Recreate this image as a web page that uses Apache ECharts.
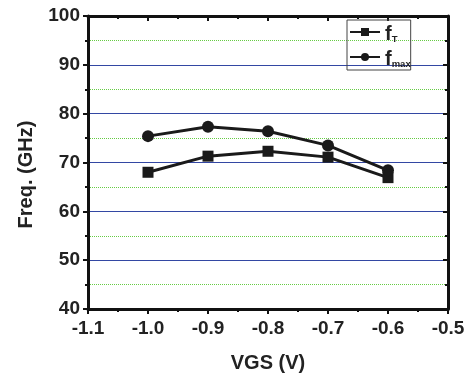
<!DOCTYPE html>
<html>
<head>
<meta charset="utf-8">
<script src="https://cdn.jsdelivr.net/npm/echarts@6/dist/echarts.min.js"></script>
<style>html,body{margin:0;padding:0;background:#fff}#c{width:472px;height:378px}</style>
</head>
<body>
<div id="c"></div>
<script>
const xValues = [-1.0, -0.9, -0.8, -0.7, -0.6];
const fT = [68.0, 71.3, 72.3, 71.1, 66.9];
const fmax = [75.4, 77.3, 76.4, 73.5, 68.4];
const seriesNames = ['fT', 'fmax'];
const xTitle = 'VGS (V)';
const yTitle = 'Freq. (GHz)';

const FONT = '"Liberation Sans", Arial, Helvetica, sans-serif';
const chart = echarts.init(document.getElementById('c'), null, {renderer: 'canvas'});
const axisLineStyle = {color: '#111', width: 3};
const tickStyle = {color: '#111', width: 2};
const labelStyle = {fontFamily: FONT, fontWeight: 'bold', fontSize: 19, color: '#222'};
const titleStyle = {fontFamily: FONT, fontWeight: 'bold', fontSize: 20, color: '#222'};

const option = {
  backgroundColor: '#fff',
  animation: false,
  grid: {left: 88, right: 24, top: 16, bottom: 69, containLabel: false},
  legend: {
    orient: 'vertical', left: 347, top: 20,
    borderColor: '#444', borderWidth: 1, padding: [4, 0, 1, 2],
    itemWidth: 30, itemHeight: 10, itemGap: 5,
    data: seriesNames,
    formatter: n => n === 'fT' ? '{m|f}{s|T}' : '{m|f}{s|max}',
    textStyle: {
      fontFamily: FONT, color: '#222',
      rich: {
        m: {fontFamily: FONT, fontWeight: 'bold', fontSize: 20, lineHeight: 24, color: '#222', verticalAlign: 'bottom'},
        s: {fontFamily: FONT, fontWeight: 'bold', fontSize: 9.5, lineHeight: 7, color: '#222', verticalAlign: 'bottom'}
      }
    }
  },
  xAxis: [{
    type: 'value', position: 'bottom', min: -1.1, max: -0.5, interval: 0.1,
    axisLine: {show: true, onZero: false, lineStyle: axisLineStyle},
    axisTick: {show: true, inside: false, length: 5, lineStyle: tickStyle},
    minorTick: {show: true, splitNumber: 2, length: 3, lineStyle: tickStyle},
    splitLine: {show: false},
    axisLabel: Object.assign({margin: 10, formatter: v => v.toFixed(1)}, labelStyle),
    name: xTitle, nameLocation: 'middle', nameGap: 44,
    nameTextStyle: titleStyle
  }, {
    type: 'value', position: 'top', min: -1.1, max: -0.5, interval: 0.1,
    axisLine: {show: true, onZero: false, lineStyle: axisLineStyle},
    axisTick: {show: true, inside: true, length: 5, lineStyle: tickStyle},
    minorTick: {show: true, splitNumber: 2, length: 3, lineStyle: tickStyle},
    splitLine: {show: false},
    axisLabel: {show: false}
  }],
  yAxis: [{
    type: 'value', position: 'left', min: 40, max: 100, interval: 10,
    axisLine: {show: true, onZero: false, lineStyle: axisLineStyle},
    axisTick: {show: true, inside: false, length: 5, lineStyle: tickStyle},
    minorTick: {show: true, splitNumber: 2, length: 3, lineStyle: tickStyle},
    splitLine: {show: true, lineStyle: {color: '#3347a3', width: 1}},
    minorSplitLine: {show: true, lineStyle: {color: '#66cc44', width: 1, type: [1, 1]}},
    axisLabel: Object.assign({margin: 8}, labelStyle),
    name: yTitle, nameLocation: 'middle', nameGap: 52, nameRotate: 90,
    nameTextStyle: Object.assign({padding: [0, 24, 0, 0]}, titleStyle)
  }, {
    type: 'value', position: 'right', min: 40, max: 100, interval: 10,
    axisLine: {show: true, onZero: false, lineStyle: axisLineStyle},
    axisTick: {show: true, inside: true, length: 5, lineStyle: tickStyle},
    minorTick: {show: true, splitNumber: 2, length: 3, lineStyle: tickStyle},
    splitLine: {show: false},
    axisLabel: {show: false}
  }],
  series: [{
    name: 'fT', type: 'line', xAxisIndex: 0, yAxisIndex: 0,
    data: xValues.map((x, i) => [x, fT[i]]),
    symbol: 'rect', symbolSize: 11,
    lineStyle: {color: '#1a1a1a', width: 3},
    itemStyle: {color: '#1a1a1a'}
  }, {
    name: 'fmax', type: 'line', xAxisIndex: 0, yAxisIndex: 0,
    data: xValues.map((x, i) => [x, fmax[i]]),
    symbol: 'circle', symbolSize: 12,
    lineStyle: {color: '#1a1a1a', width: 3},
    itemStyle: {color: '#1a1a1a'}
  }]
};
chart.setOption(option);
</script>
</body>
</html>
